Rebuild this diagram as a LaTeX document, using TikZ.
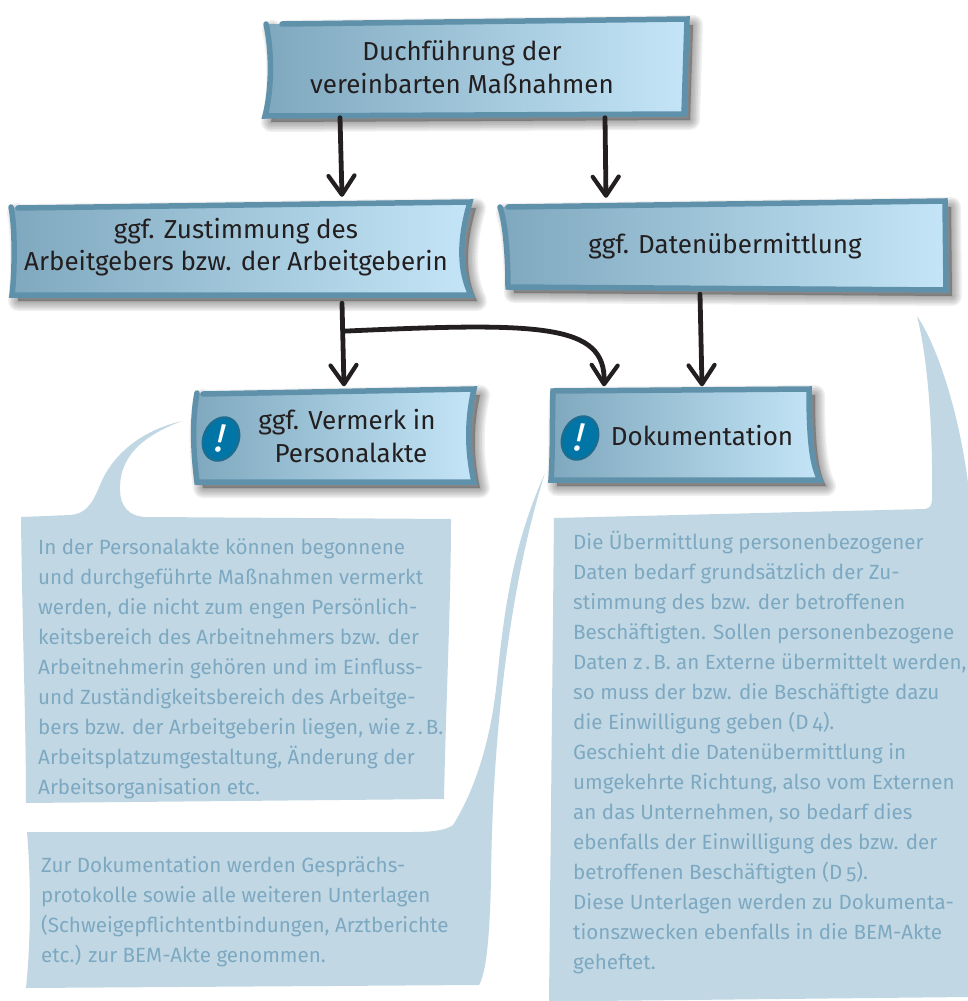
\documentclass[tikz,border=0pt]{standalone}
\usepackage{fontspec}
\setmainfont{Fira Sans}[Numbers=OldStyle]
\usetikzlibrary{arrows.meta,shapes.geometric}
\definecolor{boxline}{HTML}{5F91AB}
\definecolor{boxleft}{HTML}{7FA8BE}
\definecolor{boxright}{HTML}{C4E5F7}
\definecolor{calloutblue}{HTML}{C1D8E4}
\definecolor{callouttext}{HTML}{7DA8C1}
\definecolor{inkblack}{HTML}{231F20}
\definecolor{iconblue}{HTML}{0075A6}
\definecolor{iconrim}{HTML}{1F6C8E}
\tikzset{
	boxshadow/.style={draw=black!75,fill=black!75,opacity=0.08,line join=round,line cap=round},
	boxbody/.style={draw=boxline,line width=5.5pt,left color=boxleft,right color=boxright,line cap=round,line join=miter},
	boxlabel/.style={text=inkblack,inner sep=0pt,align=center,font=\fontsize{26}{32.5}\selectfont},
	callout/.style={fill=calloutblue},
	callouttxt/.style={text=callouttext,inner sep=0pt,anchor=north west,align=left,font=\fontsize{20.6}{30}\selectfont},
	flowarrow/.style={draw=inkblack,line width=4.8pt,line cap=round,-{Straight Barb[length=19pt,width=26pt,line width=4.2pt,round]}},
	iconblob/.style={ellipse,draw=iconrim,line width=2pt,fill=iconblue,minimum width=35pt,minimum height=45pt,inner sep=0pt,rotate=-24},
	iconmark/.style={text=white,inner sep=0pt,rotate=-6,font=\fontsize{40}{40}\selectfont\itshape},
}
\newcommand{\flowbox}[1]{
	\foreach \w in {20,17,14,11,8,5,2} \draw[boxshadow,line width=\w pt,shift={(6,6)}] #1;
	\draw[boxbody] #1;
}
\begin{document}
\begin{tikzpicture}[x=1pt,y=-1pt]
	\useasboundingbox (0,0) rectangle (968,1001);
	% speech bubbles behind the boxes
	\fill[callout] (182,421) .. controls (135,432) and (110,460) .. (100,485) .. controls (92,505) and (85,514) .. (70,515) -- (21,517)
		.. controls (22,620) and (26,720) .. (26,803) -- (444,799) .. controls (446,700) and (451,600) .. (451,519) -- (150,517)
		.. controls (128,518) and (120,505) .. (120,490) .. controls (119,455) and (145,435) .. cycle;
	\fill[callout] (545,473) .. controls (515,540) and (505,600) .. (497,680) .. controls (491,740) and (475,790) .. (453,825)
		.. controls (445,831) and (430,832) .. (410,832) -- (27,832) .. controls (31,880) and (31,940) .. (26,988) -- (479,985)
		.. controls (488,970) and (490,920) .. (491,880) .. controls (492,760) and (505,600) .. cycle;
	\fill[callout] (917,316) .. controls (928,360) and (933,430) .. (932,498) .. controls (932,506) and (930,508) .. (925,509)
		-- (554,518) -- (549,1001) -- (593,1001) -- (968,997) -- (968,483) .. controls (960,420) and (940,350) .. cycle;
	% boxes
	\flowbox{(266,24) .. controls (272,50) and (272,90) .. (265,116) -- (684,114) -- (687,19) -- (282,24)}
	\flowbox{(11,207) .. controls (15,225) and (15,270) .. (12,295) -- (471,295) .. controls (459,270) and (459,240) .. (470,202) -- (18,208)}
	\flowbox{(500,207) .. controls (506,225) and (508,260) .. (508,287) -- (946,290) -- (945,201) -- (508,207)}
	\flowbox{(197,393) .. controls (192,420) and (193,450) .. (197,482) -- (474,482) .. controls (467,450) and (467,420) .. (474,389) -- (203,394)}
	\flowbox{(553,391) .. controls (552,420) and (553,450) .. (551,480) -- (820,480) .. controls (812,465) and (809,440) .. (809,389) -- cycle}
	% labels
	\node[boxlabel,minimum height=101pt] (massnahmen) at (462,67) {Duchführung der\\vereinbarten Maßnahmen};
	\node[boxlabel,minimum height=100pt] (zustimmung) at (236,247) {ggf. Zustimmung des\\Arbeitgebers bzw. der Arbeitgeberin};
	\node[boxlabel,minimum height=96pt] (datenweg) at (725,246) {ggf. Datenübermittlung};
	\node[boxlabel,minimum height=99pt] (vermerk) at (347,436) {ggf. Vermerk in\\\hspace*{8pt}Personalakte};
	\node[boxlabel,minimum height=99pt] (doku) at (702,436) {Dokumentation};
	\node[iconblob] (iconvermerk) at (221,439) {};
	\node[iconmark] (markvermerk) at (221,439) {!};
	\node[iconblob] (icondoku) at (580,438) {};
	\node[iconmark] (markdoku) at (580,438) {!};
	% connectors
	\draw[flowarrow] ([xshift=-122pt]massnahmen.south) -- ([xshift=106pt]zustimmung.north);
	\draw[flowarrow] ([xshift=143pt]massnahmen.south) -- ([xshift=-119pt]datenweg.north);
	\draw[flowarrow] ([xshift=106pt,yshift=-6pt]zustimmung.south) -- ([xshift=-3pt]vermerk.north);
	\draw[flowarrow] ([xshift=107pt,yshift=-34pt]zustimmung.south) .. controls +(197,-9) and +(2,-63) .. ([xshift=-98pt]doku.north);
	\draw[flowarrow] ([xshift=-25pt]datenweg.south) -- (doku.north);
	% texts
	\node[callouttxt] (vermerktext) at (38,538.5) {In der Personalakte können begonnene\\und durchgeführte Maßnahmen vermerkt\\werden, die nicht zum engen Persönlich-\\keitsbereich des Arbeitnehmers bzw. der\\Arbeitnehmerin gehören und im Einfluss-\\und Zuständigkeitsbereich des Arbeitge-\\bers bzw. der Arbeitgeberin liegen, wie z\kern3pt.\kern3pt B.\\Arbeitsplatzumgestaltung, Änderung der\\Arbeitsorganisation etc.};
	\node[callouttxt] (dokutext) at (41,856.5) {Zur Dokumentation werden Gesprächs-\\protokolle sowie alle weiteren Unterlagen\\(Schweigepflichtentbindungen, Arztberichte\\etc.) zur BEM-Akte genommen.};
	\node[callouttxt] (datentext) at (573,530.5) {Die Übermittlung personenbezogener\\Daten bedarf grundsätzlich der Zu-\\stimmung des bzw. der betroffenen\\Beschäftigten. Sollen personenbezogene\\Daten z\kern3pt.\kern3pt B. an Externe übermittelt werden,\\so muss der bzw. die Beschäftigte dazu\\die Einwilligung geben (D\kern4pt 4).\\Geschieht die Datenübermittlung in\\umgekehrte Richtung, also vom Externen\\an das Unternehmen, so bedarf dies\\ebenfalls der Einwilligung des bzw. der\\betroffenen Beschäftigten (D\kern4pt 5).\\Diese Unterlagen werden zu Dokumenta-\\tionszwecken ebenfalls in die BEM-Akte\\geheftet.};
\end{tikzpicture}
\end{document}
